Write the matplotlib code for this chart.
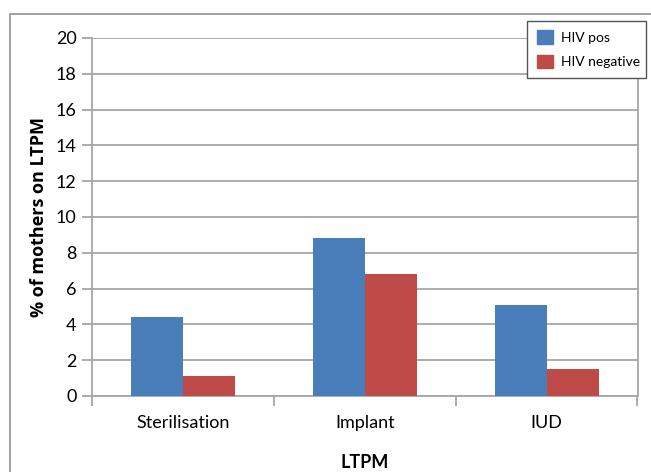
import numpy as np
import matplotlib.pyplot as plt
from matplotlib.patches import Rectangle, Patch

# data
categories = ['Sterilisation', 'Implant', 'IUD']
hiv_pos = [4.4, 8.8, 5.1]
hiv_neg = [1.1, 6.8, 1.5]
series_names = ['HIV pos', 'HIV negative']

blue = '#4a7ebb'
red = '#be4b48'
grid_col = '#a6a6a6'

plt.rcParams['font.family'] = ['Lato', 'DejaVu Sans']

fig = plt.figure(figsize=(6.51, 4.72), dpi=100)
ax = fig.add_axes([92 / 651, 1 - 396 / 472, (637.5 - 92) / 651, (396 - 38) / 472])

# outer chart frame (runs off the right and bottom edge)
fig.patches.append(Rectangle((10 / 651, -0.1), 1.0, 1 - 13.5 / 472 + 0.1,
                             transform=fig.transFigure, fill=False,
                             edgecolor='#9a9a9a', linewidth=1.3))

x = np.arange(len(categories))
w = 1 / 3.5
ax.bar(x - w / 2, hiv_pos, w, color=blue, zorder=3)
ax.bar(x + w / 2, hiv_neg, w, color=red, zorder=3)

ax.set_xlim(-0.5, 2.5)
ax.set_ylim(0, 20)
ax.set_yticks(np.arange(0, 21, 2))
ax.yaxis.grid(True, color=grid_col, linewidth=1.3, zorder=0)
ax.set_axisbelow(True)

# category labels in the middle, tick marks on the boundaries
ax.set_xticks(x)
ax.set_xticklabels(categories, fontsize=13)
ax.tick_params(axis='x', length=0, pad=14)
ax.set_xticks(np.arange(-0.5, 3, 1), minor=True)
ax.tick_params(axis='x', which='minor', length=7, width=1.3, color=grid_col)
ax.tick_params(axis='y', length=7, width=1.3, color=grid_col, labelsize=13, pad=4)

for s in ['left', 'bottom', 'right']:
    ax.spines[s].set_color(grid_col)
    ax.spines[s].set_linewidth(1.3)
ax.spines['top'].set_visible(False)

ax.set_xlabel('LTPM', fontsize=13, fontweight='bold', labelpad=16)
ax.set_ylabel('% of mothers on LTPM', fontsize=13, fontweight='bold',
              family=['Open Sans', 'DejaVu Sans'], labelpad=6)

handles = [Patch(color=blue), Patch(color=red)]
leg = ax.legend(handles, series_names, loc='upper left',
                bbox_to_anchor=(527 / 651, 1 - 79 / 472, (646 - 527) / 651, (79 - 20.7) / 472),
                bbox_transform=fig.transFigure, mode='expand',
                fontsize=10, fancybox=False, framealpha=1, edgecolor='#555555',
                handlelength=1.15, handleheight=1.15, handletextpad=0.6,
                labelspacing=0.75, borderpad=0.7, borderaxespad=0)
leg.get_frame().set_linewidth(1.0)
leg.set_zorder(5)

fig.savefig('out.png', dpi=100)
